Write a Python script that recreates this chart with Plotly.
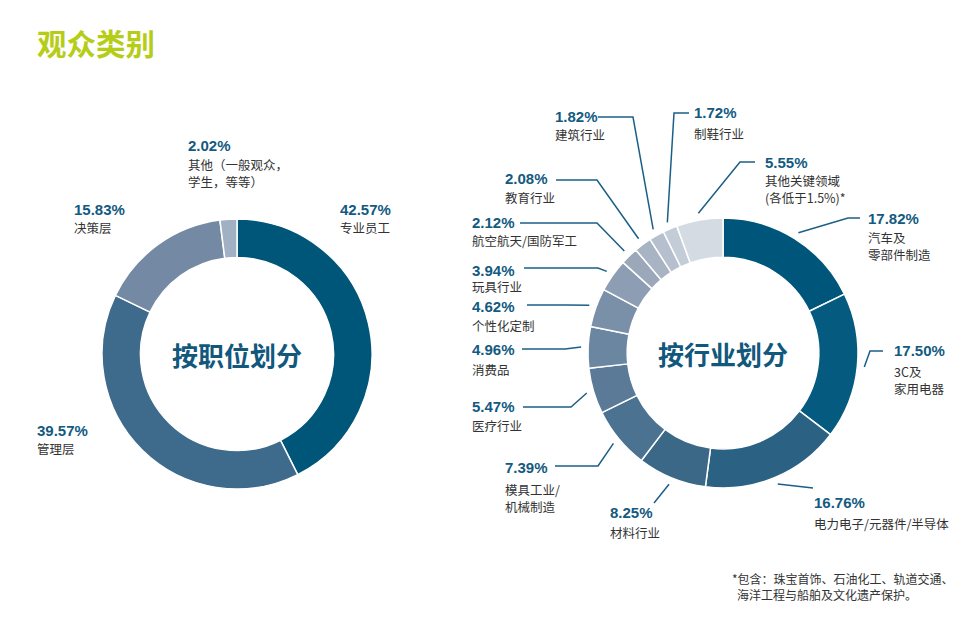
import math
import plotly.graph_objects as go

W, H = 978, 637

# ---------------- data ----------------
pos_labels = ["专业员工", "管理层", "决策层", "其他（一般观众，<br>学生，等等）"]
pos_values = [42.57, 39.57, 15.83, 2.02]
pos_colors = ["#005678", "#3e6a8b", "#7489a4", "#a2b0c4"]

ind_labels = ["汽车及<br>零部件制造", "3C及<br>家用电器", "电力电子/元器件/半导体", "材料行业",
              "模具工业/<br>机械制造", "医疗行业", "消费品", "个性化定制", "玩具行业",
              "航空航天/国防军工", "教育行业", "建筑行业", "制鞋行业", "其他关键领域<br>(各低于1.5%)*"]
ind_values = [17.82, 17.50, 16.76, 8.25, 7.39, 5.47, 4.96, 4.62, 3.94, 2.12, 2.08, 1.82, 1.72, 5.55]
ind_colors = ["#00567a", "#055b7f", "#2b6183", "#3c6888", "#4b7291", "#5b7a97", "#6b86a0",
              "#7a90a9", "#8d9db3", "#9aa8ba", "#a8b4c4", "#b5bfcd", "#c4ccd8", "#d5dbe3"]

footnote_lines = ["*包含：珠宝首饰、石油化工、轨道交通、", "海洋工程与船舶及文化遗产保护。"]

# ---------------- layout geometry (pixels) ----------------
L_CX, L_CY, L_R = 237, 354, 135
R_CX, R_CY, R_R = 723, 353, 135

PCT_COLOR = "#135a80"
TXT_COLOR = "#333333"
LINE_COLOR = "#1b5f86"
CJK = "Noto Sans CJK SC"
LAT = "Liberation Sans, Arial"

# label placement: (pct_x, pct_y, name_first_y)
pos_label_pos = [(339, 209, 227), (36, 430, 449), (73, 209, 227), (187, 146, 164)]
ind_label_pos = [
    (867, 218, 237), (893, 351, 371), (813, 502, 523), (609, 512, 532),
    (504, 467, 489), (471, 406, 425), (471, 349, 369), (471, 307, 325),
    (471, 270, 287), (471, 223, 241), (504, 179, 197), (554, 117, 135),
    (693, 113, 133), (764, 162, 180),
]
# leader lines: (elbow, end) in pixels
ind_leaders = [
    ((848, 218), (860, 218)), ((870, 351), (883, 351)), ((813, 488), (813, 488)),
    ((654, 503), (654, 503)), ((598, 466), (555, 466)), ((571, 407), (523, 407)),
    ((565, 349), (522, 349)), ((567, 305), (527, 305)), ((598, 268), (524, 268)),
    ((597, 223), (520, 223)), ((597, 180), (556, 180)), ((633, 117), (598, 117)),
    ((674, 113), (689, 113)), ((740, 162), (755, 162)),
]


def px(x):
    return x / W


def py(y):
    return 1 - y / H


def domain(cx, cy, r):
    return dict(x=[px(cx - r), px(cx + r)], y=[py(cy + r), py(cy - r)])


fig = go.Figure()
fig.add_trace(go.Pie(
    labels=pos_labels, values=pos_values, sort=False, direction="clockwise", rotation=0,
    hole=0.715, marker=dict(colors=pos_colors, line=dict(color="white", width=1.5)),
    textinfo="none", hoverinfo="skip", domain=domain(L_CX, L_CY, L_R), showlegend=False,
))
fig.add_trace(go.Pie(
    labels=ind_labels, values=ind_values, sort=False, direction="clockwise", rotation=0,
    hole=0.71, marker=dict(colors=ind_colors, line=dict(color="white", width=1.5)),
    textinfo="none", hoverinfo="skip", domain=domain(R_CX, R_CY, R_R), showlegend=False,
))

ann = []
LINE_H = 17.5


def add_label(value, name, x, y, ny):
    ann.append(dict(x=px(x), y=py(y), xref="paper", yref="paper", xanchor="left", yanchor="middle",
                    text=f"<b>{value:.2f}%</b>", showarrow=False, borderpad=0,
                    font=dict(family=LAT, size=15, color=PCT_COLOR)))
    for k, line in enumerate(name.split("<br>")):
        ann.append(dict(x=px(x), y=py(ny + k * LINE_H), xref="paper", yref="paper",
                        xanchor="left", yanchor="middle", text=line, showarrow=False,
                        borderpad=0, font=dict(family=CJK, size=12.5, color=TXT_COLOR)))


for v, n, (x, y, ny) in zip(pos_values, pos_labels, pos_label_pos):
    add_label(v, n, x, y, ny)
for v, n, (x, y, ny) in zip(ind_values, ind_labels, ind_label_pos):
    add_label(v, n, x, y, ny)

# leader lines from slice mid-angles
shapes = []
total = sum(ind_values)
cum = 0.0
RA = R_R + 7
for v, (elbow, end) in zip(ind_values, ind_leaders):
    theta = 2 * math.pi * (cum + v / 2) / total
    cum += v
    ax = R_CX + RA * math.sin(theta)
    ay = R_CY - RA * math.cos(theta)
    path = f"M {px(ax)},{py(ay)} L {px(elbow[0])},{py(elbow[1])} L {px(end[0])},{py(end[1])}"
    shapes.append(dict(type="path", path=path, xref="paper", yref="paper",
                       line=dict(color=LINE_COLOR, width=1.5)))

# centre titles
for cx, cy, t in [(L_CX, L_CY, "按职位划分"), (R_CX, R_CY, "按行业划分")]:
    ann.append(dict(x=px(cx), y=py(cy), xref="paper", yref="paper", xanchor="center", yanchor="middle",
                    text=f"<b>{t}</b>", showarrow=False,
                    font=dict(family=CJK, size=26, color="#11587c")))

# title
ann.append(dict(x=px(35), y=py(42), xref="paper", yref="paper", xanchor="left", yanchor="middle",
                text="<b>观众类别</b>", showarrow=False,
                font=dict(family=CJK, size=29.5, color="#b6cd18")))

# footnote
ann.append(dict(x=px(731), y=py(578), xref="paper", yref="paper", xanchor="left", yanchor="middle",
                text=footnote_lines[0], showarrow=False, borderpad=0,
                font=dict(family=CJK, size=12, color=TXT_COLOR)))
ann.append(dict(x=px(736), y=py(594), xref="paper", yref="paper", xanchor="left", yanchor="middle",
                text=footnote_lines[1], showarrow=False, borderpad=0,
                font=dict(family=CJK, size=12, color=TXT_COLOR)))

fig.update_layout(
    width=W, height=H, margin=dict(l=0, r=0, t=0, b=0),
    paper_bgcolor="white", plot_bgcolor="white",
    annotations=ann, shapes=shapes, showlegend=False,
)

fig.write_html("out.html")
